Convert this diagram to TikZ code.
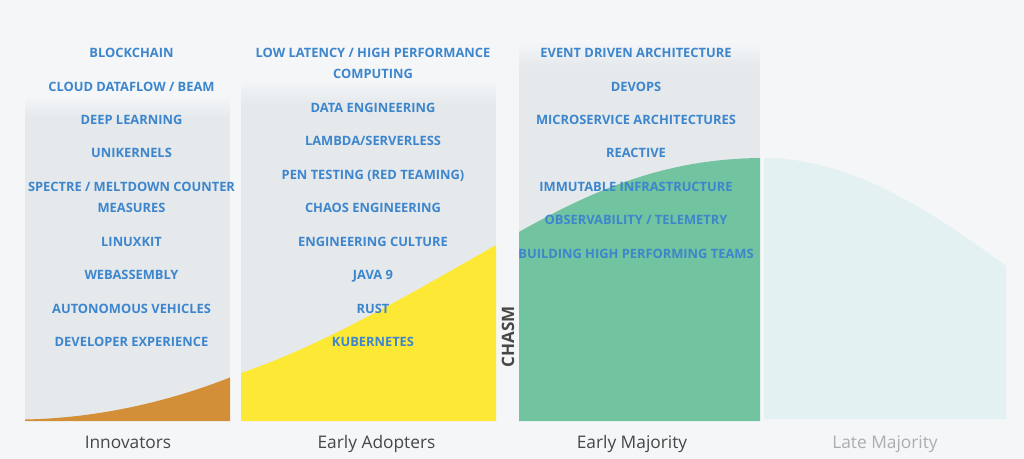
\documentclass[tikz,border=0pt]{standalone}
\usepackage{fontspec}
\setmainfont{Open Sans}

\definecolor{pagebg}{HTML}{F4F6F8}
\definecolor{boxgrey}{HTML}{E5E9EC}
\definecolor{techblue}{HTML}{3D86CD}
\definecolor{innoorange}{HTML}{D38F37}
\definecolor{adoptyellow}{HTML}{FCE835}
\definecolor{majgreen}{HTML}{72C39F}
\definecolor{lateteal}{HTML}{E3F1F2}
\definecolor{labeldark}{HTML}{474747}
\definecolor{labellight}{HTML}{ADADAD}

\tikzset{every picture/.style={line width=0.75pt},
  tech/.style={text=techblue, font=\fontsize{9.65}{15.75}\selectfont\bfseries, inner sep=0pt, text height=6.9pt, text depth=0pt, align=center},
  twoline/.style={text height={}, text depth={}},
  stage/.style={font=\fontsize{13}{15}\selectfont, inner sep=0pt, text height=9.3pt, text depth=0pt}}

\begin{document}
\begin{tikzpicture}[x=0.75pt,y=0.75pt,yscale=-1,xscale=1]
\useasboundingbox (0,0) rectangle (1024,459);
%Shape: Rectangle [background]
\fill [pagebg] (0,0) rectangle (1024,459);

%Shape: Rectangle [box innovators]
\fill [boxgrey] (25,118) rectangle (230,421);
\shade [top color=pagebg, bottom color=boxgrey] (25,96) rectangle (230,118.5);
%Shape: Rectangle [box early adopters]
\fill [boxgrey] (241,104) rectangle (496,421);
\shade [top color=pagebg, bottom color=boxgrey] (241,80) rectangle (496,104.5);
%Shape: Rectangle [box early majority]
\fill [boxgrey] (519,66) rectangle (760,421);
\shade [top color=pagebg, bottom color=boxgrey] (519,42) rectangle (760,66.5);

%Shape: Curve [innovators]
\fill [innoorange] (25,419.5) .. controls (100,418) and (170,401) .. (230,377.5) -- (230,421) -- (25,421) -- cycle ;
%Shape: Curve [early adopters]
\fill [adoptyellow] (241,373) .. controls (320,346) and (400,300) .. (496,245) -- (496,421) -- (241,421) -- cycle ;
%Shape: Curve [early majority]
\fill [majgreen] (519,232) .. controls (600,186) and (670,159) .. (760,158) -- (760,421) -- (519,421) -- cycle ;
%Shape: Curve [late majority]
\fill [lateteal] (764,158) .. controls (850,158) and (930,210) .. (1006,266) -- (1006,419) -- (764,419) -- cycle ;

% Text Node
\node [tech] (blockchain) at (131.5,52.8) {BLOCKCHAIN};
% Text Node
\node [tech] (dataflow) at (131.5,86.8) {CLOUD DATAFLOW / BEAM};
% Text Node
\node [tech] (deeplearning) at (131.5,119.8) {DEEP LEARNING};
% Text Node
\node [tech] (unikernels) at (131.5,152.8) {UNIKERNELS};
% Text Node
\node [tech, twoline] (spectre) at (131.5,197.3) {SPECTRE / MELTDOWN COUNTER\\MEASURES};
% Text Node
\node [tech] (linuxkit) at (131.5,241.8) {LINUXKIT};
% Text Node
\node [tech] (wasm) at (131.5,274.8) {WEBASSEMBLY};
% Text Node
\node [tech] (autonomous) at (131.5,308.8) {AUTONOMOUS VEHICLES};
% Text Node
\node [tech] (devexp) at (131.5,341.8) {DEVELOPER EXPERIENCE};

% Text Node
\node [tech, twoline] (lowlatency) at (373,63.3) {LOW LATENCY / HIGH PERFORMANCE\\COMPUTING};
% Text Node
\node [tech] (dataeng) at (373,107.8) {DATA ENGINEERING};
% Text Node
\node [tech] (serverless) at (373,140.8) {LAMBDA/SERVERLESS};
% Text Node
\node [tech] (pentest) at (373,174.8) {PEN TESTING (RED TEAMING)};
% Text Node
\node [tech] (chaos) at (373,207.8) {CHAOS ENGINEERING};
% Text Node
\node [tech] (culture) at (373,241.8) {ENGINEERING CULTURE};
% Text Node
\node [tech] (java) at (373,274.8) {JAVA 9};
% Text Node
\node [tech] (rust) at (373,308.8) {RUST};
% Text Node
\node [tech] (kubernetes) at (373,341.8) {KUBERNETES};

% Text Node
\node [tech] (eventdriven) at (636,52.8) {EVENT DRIVEN ARCHITECTURE};
% Text Node
\node [tech] (devops) at (636,86.8) {DEVOPS};
% Text Node
\node [tech] (microservice) at (636,119.8) {MICROSERVICE ARCHITECTURES};
% Text Node
\node [tech] (reactive) at (636,152.8) {REACTIVE};
% Text Node
\node [tech] (immutable) at (636,186.8) {IMMUTABLE INFRASTRUCTURE};
% Text Node
\node [tech] (observability) at (636,219.8) {OBSERVABILITY / TELEMETRY};
% Text Node
\node [tech] (teams) at (636,253.8) {BUILDING HIGH PERFORMING TEAMS};

% Text Node
\node [text=labeldark, font=\fontsize{12.8}{15}\selectfont\bfseries, inner sep=0pt, rotate=90] (chasm) at (508,337) {CHASM};

% Text Node
\node [stage, text=labeldark] (innovators) at (128,442) {Innovators};
% Text Node
\node [stage, text=labeldark] (adopters) at (376.5,442) {Early Adopters};
% Text Node
\node [stage, text=labeldark] (earlymaj) at (632,442) {Early Majority};
% Text Node
\node [stage, text=labellight] (latemaj) at (885,442) {Late Majority};

\end{tikzpicture}
\end{document}
